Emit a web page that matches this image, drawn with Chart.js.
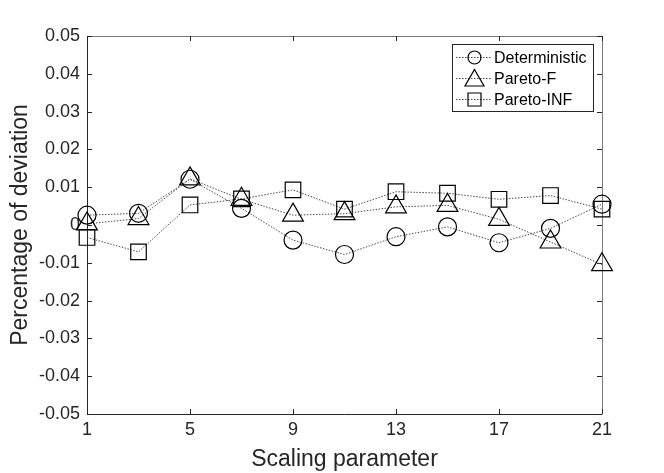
<!DOCTYPE html>
<html><head><meta charset="utf-8">
<script src="https://cdn.jsdelivr.net/npm/chart.js@4.4.1/dist/chart.umd.min.js"></script>
<style>html,body{margin:0;padding:0;background:#fff;} #wrap{width:664px;height:473px;}</style>
</head><body><div id="wrap"><canvas id="c" width="664" height="473" style="width:664px;height:473px"></canvas></div>
<script>
const scalingParameter = [1, 3, 5, 7, 9, 11, 13, 15, 17, 19, 21];
const deterministic = [0.0026, 0.0031, 0.0121, 0.0044, -0.0040, -0.0078, -0.0031, -0.0005, -0.0047, -0.0009, 0.0055];
const paretoF      = [0.0003, 0.0017, 0.0122, 0.0068, 0.0026, 0.0030, 0.0048, 0.0052, 0.0015, -0.0045, -0.0105];
const paretoINF    = [-0.0033, -0.0071, 0.0053, 0.0069, 0.0093, 0.0042, 0.0088, 0.0084, 0.0068, 0.0078, 0.0042];
const seriesLabels = ['Deterministic', 'Pareto-F', 'Pareto-INF'];
const xTicks = [1, 5, 9, 13, 17, 21];
const yTicks = [-0.05, -0.04, -0.03, -0.02, -0.01, 0, 0.01, 0.02, 0.03, 0.04, 0.05];
const xTitle = 'Scaling parameter';
const yTitle = 'Percentage of deviation';

const FONT = "'Liberation Sans', Arial, Helvetica, sans-serif";
const AXIS = '#262626';
const LINE = '#4a4a4a';

function toPts(vals) { return vals.map((v, i) => ({ x: scalingParameter[i], y: v })); }

const styles = [
  { pointStyle: 'circle', pointRadius: 9 },
  { pointStyle: 'triangle', pointRadius: 12 },
  { pointStyle: 'rect', pointRadius: 11 }
];
const allSeries = [deterministic, paretoF, paretoINF];

const datasets = allSeries.map((vals, i) => ({
  label: seriesLabels[i],
  data: toPts(vals),
  borderColor: LINE,
  borderWidth: 1,
  borderDash: [1.5, 1.5],
  pointStyle: styles[i].pointStyle,
  pointRadius: styles[i].pointRadius,
  pointHoverRadius: styles[i].pointRadius,
  pointBorderColor: '#000',
  pointBackgroundColor: 'rgba(0,0,0,0)',
  pointBorderWidth: 1.2,
  tension: 0,
  fill: false,
  clip: false
}));

const framePlugin = {
  id: 'frame',
  beforeDatasetsDraw(chart) {
    const { ctx, chartArea: a, scales } = chart;
    ctx.save();
    ctx.lineWidth = 1;
    ctx.strokeStyle = AXIS;
    ctx.beginPath();
    ctx.moveTo(Math.round(a.left) + 0.5, a.top);
    ctx.lineTo(Math.round(a.left) + 0.5, Math.round(a.bottom) + 0.5);
    ctx.lineTo(a.right, Math.round(a.bottom) + 0.5);
    ctx.stroke();
    ctx.strokeStyle = '#7a7a7a';
    ctx.beginPath();
    ctx.moveTo(Math.round(a.left) + 0.5, Math.round(a.top) + 0.5);
    ctx.lineTo(Math.round(a.right) + 0.5, Math.round(a.top) + 0.5);
    ctx.lineTo(Math.round(a.right) + 0.5, Math.round(a.bottom) + 0.5);
    ctx.stroke();
    const TL = 5;
    ctx.strokeStyle = AXIS;
    ctx.beginPath();
    scales.x.ticks.forEach(t => {
      const px = Math.round(scales.x.getPixelForValue(t.value)) + 0.5;
      ctx.moveTo(px, a.bottom); ctx.lineTo(px, a.bottom - TL);
      ctx.moveTo(px, a.top); ctx.lineTo(px, a.top + TL);
    });
    scales.y.ticks.forEach(t => {
      const py = Math.round(scales.y.getPixelForValue(t.value)) + 0.5;
      ctx.moveTo(a.left, py); ctx.lineTo(a.left + TL, py);
      ctx.moveTo(a.right, py); ctx.lineTo(a.right - TL, py);
    });
    ctx.stroke();
    ctx.restore();
  }
};

function drawMarker(ctx, style, x, y, r) {
  ctx.beginPath();
  if (style === 'circle') {
    ctx.arc(x, y, r, 0, Math.PI * 2);
  } else if (style === 'triangle') {
    let rad = 0;
    ctx.moveTo(x + Math.sin(rad) * r, y - Math.cos(rad) * r);
    rad += 2 * Math.PI / 3;
    ctx.lineTo(x + Math.sin(rad) * r, y - Math.cos(rad) * r);
    rad += 2 * Math.PI / 3;
    ctx.lineTo(x + Math.sin(rad) * r, y - Math.cos(rad) * r);
    ctx.closePath();
  } else {
    ctx.rect(x - r, y - r, 2 * r, 2 * r);
  }
  ctx.stroke();
}

const legendPlugin = {
  id: 'matlabLegend',
  afterDatasetsDraw(chart) {
    const { ctx } = chart;
    const box = { x: 452.5, y: 44.5, w: 141, h: 67 };
    ctx.save();
    ctx.fillStyle = '#fff';
    ctx.fillRect(box.x, box.y, box.w, box.h);
    ctx.strokeStyle = AXIS;
    ctx.lineWidth = 1;
    ctx.strokeRect(box.x, box.y, box.w, box.h);
    const rows = [57.5, 78.5, 99.5];
    const sizes = [6.5, 11, 6.5];
    chart.data.datasets.forEach((ds, i) => {
      const y = rows[i];
      ctx.strokeStyle = LINE;
      ctx.lineWidth = 1;
      ctx.setLineDash([1.5, 1.5]);
      ctx.beginPath();
      ctx.moveTo(456, y); ctx.lineTo(492, y);
      ctx.stroke();
      ctx.setLineDash([]);
      ctx.strokeStyle = '#000';
      ctx.lineWidth = 1.2;
      const my = ds.pointStyle === 'triangle' ? y + 2 : y;
      drawMarker(ctx, ds.pointStyle, 474.5, my, sizes[i]);
      ctx.fillStyle = '#000';
      ctx.font = '16px ' + FONT;
      ctx.textAlign = 'left';
      ctx.textBaseline = 'middle';
      ctx.fillText(ds.label, 494, y + 1);
    });
    ctx.restore();
  }
};

new Chart(document.getElementById('c'), {
  type: 'line',
  data: { datasets },
  options: {
    responsive: false,
    animation: false,
    layout: { padding: { top: 36, right: 62, left: 0, bottom: 0 } },
    plugins: { legend: { display: false }, tooltip: { enabled: false } },
    scales: {
      x: {
        type: 'linear',
        min: 1, max: 21,
        afterBuildTicks: s => { s.ticks = xTicks.map(v => ({ value: v })); },
        afterFit: s => { s.height = 59; },
        grid: { display: false, drawTicks: false },
        border: { display: false },
        ticks: { color: AXIS, padding: 5, maxRotation: 0, autoSkip: false, font: { family: FONT, size: 18 } },
        title: { display: true, text: xTitle, color: AXIS, font: { family: FONT, size: 23 }, padding: { top: 0, bottom: 0 } }
      },
      y: {
        type: 'linear',
        min: -0.05, max: 0.05,
        afterBuildTicks: s => { s.ticks = yTicks.map(v => ({ value: v })); },
        afterFit: s => { s.width = 87; },
        grid: { display: false, drawTicks: false },
        border: { display: false },
        ticks: {
          color: AXIS, padding: 7, autoSkip: false, font: { family: FONT, size: 18 },
          callback: v => Math.abs(v) < 1e-9 ? '0' : (Math.round(v * 100) / 100).toFixed(2)
        },
        title: { display: true, text: yTitle, color: AXIS, font: { family: FONT, size: 23 }, padding: { top: 7, bottom: 0 } }
      }
    }
  },
  plugins: [framePlugin, legendPlugin]
});
</script>
</body></html>
